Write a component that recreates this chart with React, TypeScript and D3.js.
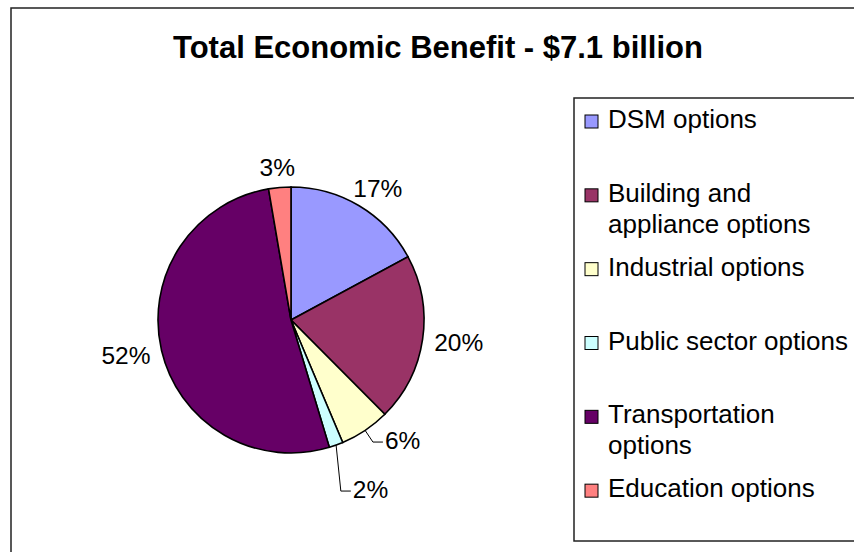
import * as d3 from "d3";

// slices, clockwise from 12 o'clock
const categories = [
  "DSM options",
  "Building and appliance options",
  "Industrial options",
  "Public sector options",
  "Transportation options",
  "Education options",
];
const legendLines = [
  ["DSM options"],
  ["Building and", "appliance options"],
  ["Industrial options"],
  ["Public sector options"],
  ["Transportation", "options"],
  ["Education options"],
];
const values = [17.1, 20.4, 6.1, 1.7, 51.9, 2.7];
const colors = ["#9999FF", "#993366", "#FFFFCC", "#CCFFFF", "#660066", "#FF8080"];
const title = "Total Economic Benefit - $7.1 billion";

const W = 854;
const H = 552;
const FONT = "Arial, 'Liberation Sans', sans-serif";
const cx = 291;
const cy = 320;
const r = 133;
const labelSize = 24.5;
const legendSize = 26;
const legendBox = { x: 574, y: 98, w: 300, h: 443 };

const App = () => {
  const total = d3.sum(values);
  const pie = d3
    .pie<number>()
    .sort(null)
    .value((d) => d);
  const arcs = pie(values);
  const arc = d3.arc<d3.PieArcDatum<number>>().innerRadius(0).outerRadius(r);

  // label placement: bbox just outside the rim, small lower slices get a leader
  let prevY = -Infinity;
  const labels = arcs.map((a, i) => {
    const text = Math.round((values[i] / total) * 100) + "%";
    const frac = values[i] / total;
    const mid = (a.startAngle + a.endAngle) / 2;
    const s = Math.sin(mid);
    const c = -Math.cos(mid);
    const w = (text.length - 1) * 0.556 * labelSize + 0.889 * labelSize;
    const h = 0.72 * labelSize;
    if (frac < 0.07 && c > 0) {
      const ex = (r + 14) * s;
      let ey = (r + 14) * c;
      ey = Math.max(ey, prevY + 2 * labelSize);
      prevY = ey;
      const path = d3.path();
      path.moveTo(r * s, r * c);
      path.lineTo(ex, ey);
      path.lineTo(ex + 10, ey);
      return { text, x: ex + 12, y: ey + 7, anchor: "start", leader: path.toString() };
    }
    const px = (r + 12) * s;
    const py = (r + 12) * c;
    return {
      text,
      x: px + (s * w) / 2,
      y: py + (c * h) / 2 + h / 2,
      anchor: "middle",
      leader: null as string | null,
    };
  });

  const step = legendBox.h / categories.length;

  return (
    <svg
      width={W}
      height={H}
      style={{ position: "absolute", left: 0, top: 0, background: "#fff" }}
      fontFamily={FONT}
    >
      <rect x={11} y={8} width={W} height={H} fill="#fff" stroke="#222" strokeWidth={1.5} />
      <text x={438} y={58} textAnchor="middle" fontSize={31} fontWeight="bold">
        {title}
      </text>

      <g transform={`translate(${cx},${cy})`}>
        {arcs.map((a, i) => (
          <path key={categories[i]} d={arc(a) || ""} fill={colors[i]} stroke="#000" strokeWidth={1.6} />
        ))}
        {labels.map((l, i) =>
          l.leader ? <path key={"l" + i} d={l.leader} fill="none" stroke="#000" strokeWidth={1} /> : null
        )}
        {labels.map((l, i) => (
          <text key={"t" + i} x={l.x} y={l.y} textAnchor={l.anchor} fontSize={labelSize}>
            {l.text}
          </text>
        ))}
      </g>

      <rect
        x={legendBox.x}
        y={legendBox.y}
        width={legendBox.w}
        height={legendBox.h}
        fill="#fff"
        stroke="#222"
        strokeWidth={1.5}
      />
      {categories.map((cat, i) => {
        const base = legendBox.y + 30 + i * step;
        return (
          <g key={cat}>
            <rect x={585} y={base - 13} width={13} height={13} fill={colors[i]} stroke="#000" strokeWidth={1} />
            {legendLines[i].map((line, j) => (
              <text key={j} x={608} y={base + j * 31} fontSize={legendSize}>
                {line}
              </text>
            ))}
          </g>
        );
      })}
    </svg>
  );
};

export default App;
